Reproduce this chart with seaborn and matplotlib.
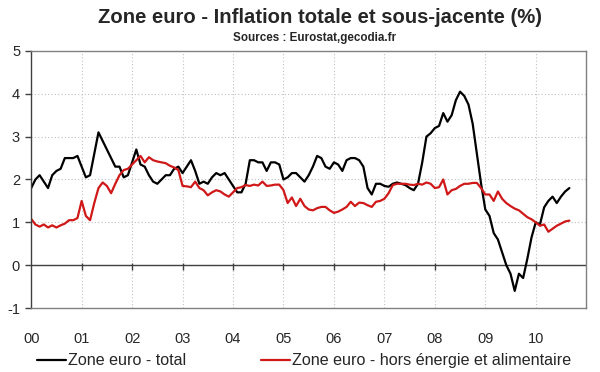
import numpy as np
import pandas as pd
import matplotlib
matplotlib.use("Agg")
import matplotlib.pyplot as plt
import seaborn as sns

# Monthly data, Jan 2000 - Sep 2010
total = [
    1.8, 2.0, 2.1, 1.95, 1.8, 2.1, 2.2, 2.25, 2.5, 2.5, 2.5, 2.55,      # 2000
    2.3, 2.05, 2.1, 2.6, 3.1, 2.9, 2.7, 2.5, 2.3, 2.3, 2.05, 2.1,       # 2001
    2.4, 2.7, 2.35, 2.3, 2.1, 1.95, 1.9, 2.0, 2.1, 2.1, 2.25, 2.3,      # 2002
    2.15, 2.3, 2.45, 2.2, 1.9, 1.95, 1.9, 2.05, 2.15, 2.1, 2.15, 2.0,   # 2003
    1.85, 1.7, 1.7, 1.9, 2.45, 2.45, 2.4, 2.4, 2.2, 2.4, 2.4, 2.35,     # 2004
    2.0, 2.05, 2.15, 2.15, 2.05, 1.95, 2.1, 2.3, 2.55, 2.5, 2.3, 2.25,  # 2005
    2.4, 2.35, 2.2, 2.45, 2.5, 2.5, 2.45, 2.3, 1.8, 1.65, 1.9, 1.9,     # 2006
    1.85, 1.83, 1.9, 1.93, 1.9, 1.87, 1.8, 1.75, 1.9, 2.4, 3.0, 3.08,   # 2007
    3.2, 3.25, 3.55, 3.35, 3.5, 3.85, 4.05, 3.95, 3.75, 3.3, 2.6, 1.9,  # 2008
    1.3, 1.15, 0.75, 0.6, 0.3, 0.0, -0.2, -0.6, -0.2, -0.3, 0.15, 0.65, # 2009
    1.0, 0.95, 1.35, 1.5, 1.6, 1.45, 1.6, 1.72, 1.8,                    # 2010
]
core = [
    1.08, 0.95, 0.9, 0.95, 0.88, 0.93, 0.88, 0.93, 0.97, 1.05, 1.05, 1.1,    # 2000
    1.5, 1.15, 1.05, 1.45, 1.8, 1.93, 1.85, 1.68, 1.9, 2.1, 2.22, 2.25,      # 2001
    2.35, 2.45, 2.55, 2.4, 2.52, 2.45, 2.42, 2.4, 2.38, 2.32, 2.28, 2.22,    # 2002
    1.85, 1.84, 1.82, 1.95, 1.8, 1.75, 1.63, 1.7, 1.75, 1.72, 1.65, 1.6,     # 2003
    1.7, 1.8, 1.82, 1.87, 1.85, 1.88, 1.86, 1.95, 1.85, 1.86, 1.88, 1.88,    # 2004
    1.75, 1.45, 1.58, 1.38, 1.55, 1.38, 1.3, 1.28, 1.33, 1.36, 1.36, 1.28,   # 2005
    1.22, 1.25, 1.3, 1.36, 1.48, 1.38, 1.46, 1.45, 1.4, 1.36, 1.48, 1.5,     # 2006
    1.55, 1.68, 1.87, 1.9, 1.9, 1.9, 1.88, 1.87, 1.9, 1.88, 1.93, 1.9,       # 2007
    1.8, 1.82, 2.0, 1.65, 1.75, 1.78, 1.85, 1.9, 1.9, 1.92, 1.92, 1.8,       # 2008
    1.65, 1.65, 1.5, 1.72, 1.55, 1.45, 1.38, 1.32, 1.28, 1.2, 1.12, 1.07,    # 2009
    1.0, 0.92, 0.95, 0.78, 0.85, 0.92, 0.97, 1.02, 1.04,                     # 2010
]
years = list(range(2000, 2011))
year_labels = ["00", "01", "02", "03", "04", "05", "06", "07", "08", "09", "10"]
y_ticks = [-1, 0, 1, 2, 3, 4, 5]

lbl_total = "Zone euro - total"
lbl_core = "Zone euro - hors énergie et alimentaire"

t = 2000 + np.arange(len(total)) / 12
df = pd.concat([
    pd.DataFrame({"t": t, "val": total, "serie": lbl_total}),
    pd.DataFrame({"t": t, "val": core, "serie": lbl_core}),
])

sns.set_style("white")
plt.rcParams["font.family"] = ["Liberation Sans", "DejaVu Sans"]

fig = plt.figure(figsize=(6, 3.72), dpi=100)
ax = fig.add_axes([0.052, 0.172, 0.925, 0.691])

sns.lineplot(data=df, x="t", y="val", hue="serie",
             palette={lbl_total: "black", lbl_core: "#d01818"},
             linewidth=1.6, ax=ax, legend=False)

# grid
for yv in y_ticks[1:-1]:
    ax.axhline(yv, color="#c0c0c0", lw=0.8, ls=(0, (1, 2)), zorder=0)
for xv in years[1:]:
    ax.axvline(xv, color="#c0c0c0", lw=0.8, ls=(0, (1, 2)), zorder=0)

# zero axis with year ticks
ax.axhline(0, color="#404040", lw=1.0, zorder=1)
ax.vlines(years[1:], -0.12, 0.04, color="#404040", lw=1.0, zorder=1)

ax.set_xlim(2000, 2011)
ax.set_ylim(-1, 5)
ax.set_yticks(y_ticks)
ax.set_yticklabels([str(v) for v in y_ticks], fontsize=10.5)
ax.set_xticks(years)
ax.set_xticklabels(year_labels, fontsize=10.5)
ax.tick_params(axis="x", length=0, pad=17)
ax.tick_params(axis="y", length=4, width=1, color="#404040", pad=4, direction="out", left=True)
ax.set_xlabel("")
ax.set_ylabel("")

for s in ax.spines.values():
    s.set_color("#808080")
    s.set_linewidth(1.0)
ax.spines["left"].set_color("#404040")

fig.text(0.534, 0.952, "Zone euro - Inflation totale et sous-jacente (%)",
         ha="center", va="center", fontsize=14.6, fontweight="bold")
fig.text(0.524, 0.898, "Sources : Eurostat,gecodia.fr",
         ha="center", va="center", fontsize=8.4, fontweight="bold")

handles = [plt.Line2D([], [], color="black", lw=1.6),
           plt.Line2D([], [], color="#d01818", lw=1.6)]
fig.legend(handles, [lbl_total, lbl_core], loc="center", ncol=2,
           bbox_to_anchor=(0.507, 0.03), frameon=False, fontsize=11.6,
           handlelength=1.8, handletextpad=0.15, columnspacing=4.6)

fig.savefig("out.png", dpi=100)
